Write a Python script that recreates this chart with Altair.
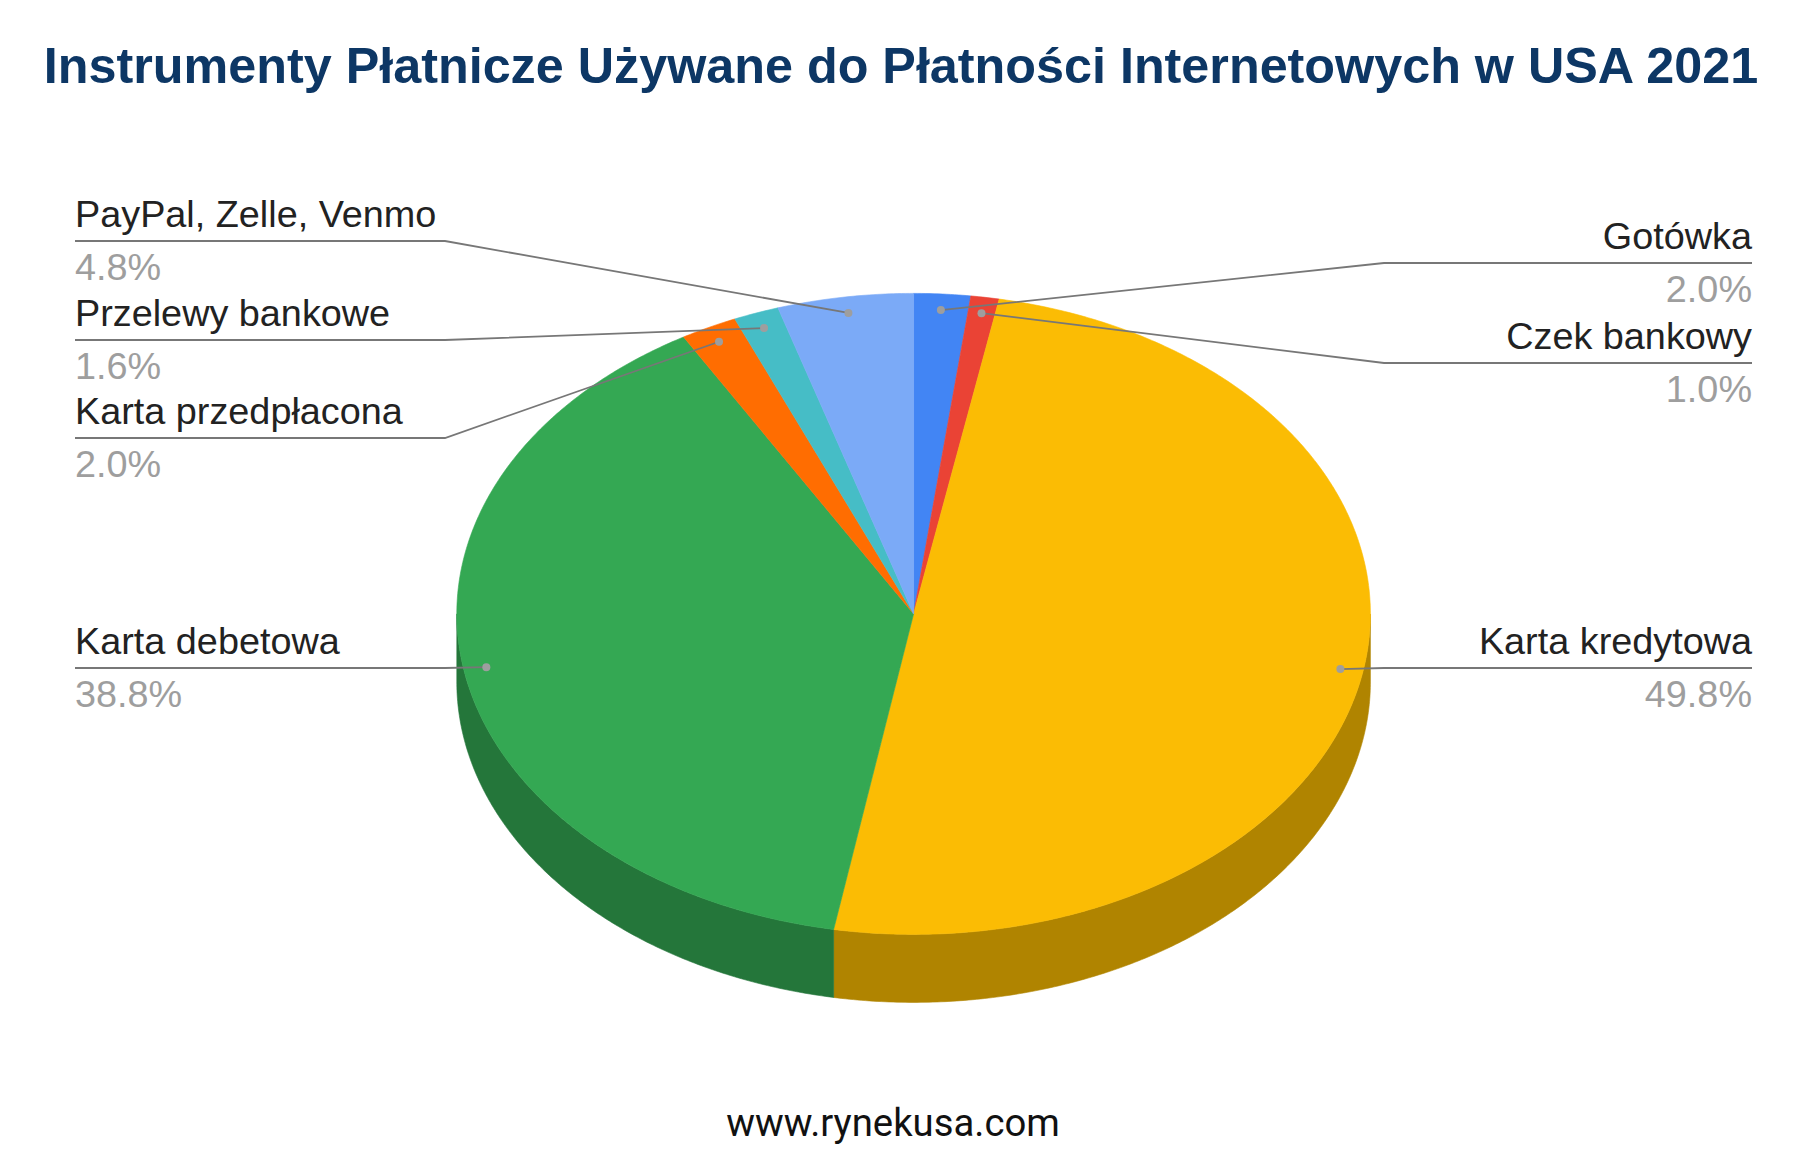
import math
import altair as alt
import pandas as pd

# ---------------- data ----------------
categories = ["Gotówka", "Czek bankowy", "Karta kredytowa", "Karta debetowa",
              "Karta przedpłacona", "Przelewy bankowe", "PayPal, Zelle, Venmo"]
values = [2.0, 1.0, 49.8, 38.8, 2.0, 1.6, 4.8]
pct_labels = ["2.0%", "1.0%", "49.8%", "38.8%", "2.0%", "1.6%", "4.8%"]
top_colors = ["#4285f4", "#ea4335", "#fbbc04", "#34a853", "#ff6d01", "#46bdc6", "#7baaf7"]
side_colors = ["#2e5dab", "#a42f25", "#b08400", "#24763a", "#b34c01", "#31848a", "#5677ad"]
title_text = "Instrumenty Płatnicze Używane do Płatności Internetowych w USA 2021"
footer_text = "www.rynekusa.com"

# ---------------- layout (page pixels) ----------------
W, H = 1811, 1171
OFF = 8
CX, CY, RX, RY, DEPTH = 913.6, 613.9, 456.8, 320.5, 68
ANCHOR_R = 0.95
label_side = ["right", "right", "right", "left", "left", "left", "left"]
label_line_y = [263, 363, 668, 668, 438, 340, 241]
LEFT_X, LEFT_ELBOW = 75, 445
RIGHT_X, RIGHT_ELBOW = 1752, 1384
NAME_DY, PCT_DY = -14, 39
LABEL_FONT = "Liberation Sans, Arial, sans-serif"
LABEL_SIZE = 37.8


def pt(theta, r=1.0, dy=0.0):
    return [CX + r * RX * math.sin(theta) - OFF, CY - r * RY * math.cos(theta) + dy - OFF]


def arc(a0, a1, dy=0.0):
    n = max(2, int(abs(a1 - a0) / (math.pi / 360)) + 1)
    return [pt(a0 + (a1 - a0) * k / (n - 1), 1.0, dy) for k in range(n)]


total = sum(values)
bounds = []
acc = 0.0
for v in values:
    a0 = acc / total * 2 * math.pi
    acc += v
    a1 = acc / total * 2 * math.pi
    bounds.append((a0, a1))

side_features, top_features = [], []
for i, (a0, a1) in enumerate(bounds):
    center = [CX - OFF, CY - OFF]
    ring = [center] + arc(a0, a1) + [center]
    top_features.append({"type": "Feature", "properties": {"fill": top_colors[i], "name": categories[i]},
                         "geometry": {"type": "Polygon", "coordinates": [ring]}})
    s0, s1 = max(a0, math.pi / 2), min(a1, 3 * math.pi / 2)
    if s1 > s0:
        upper = arc(s0, s1)
        lower = arc(s1, s0, DEPTH)
        ring = upper + lower + [upper[0]]
        side_features.append({"type": "Feature", "properties": {"fill": side_colors[i], "name": categories[i]},
                              "geometry": {"type": "Polygon", "coordinates": [ring]}})

line_features, dots, texts_left, texts_right = [], [], [], []
for i, (a0, a1) in enumerate(bounds):
    mid = (a0 + a1) / 2
    ax, ay = pt(mid, ANCHOR_R)
    dots.append({"lon": ax, "lat": ay, "name": categories[i]})
    ly = label_line_y[i] - OFF
    if label_side[i] == "left":
        coords = [[LEFT_X - OFF, ly], [LEFT_ELBOW - OFF, ly], [ax, ay]]
        tgt = texts_left
        tx = LEFT_X - OFF
    else:
        coords = [[RIGHT_X - OFF, ly], [RIGHT_ELBOW - OFF, ly], [ax, ay]]
        tgt = texts_right
        tx = RIGHT_X - OFF
    line_features.append({"type": "Feature", "properties": {"name": categories[i]},
                          "geometry": {"type": "LineString", "coordinates": coords}})
    tgt.append({"lon": tx, "lat": ly + NAME_DY, "text": categories[i], "kind": "name"})
    tgt.append({"lon": tx, "lat": ly + PCT_DY, "text": pct_labels[i], "kind": "pct"})

tl = pd.DataFrame(texts_left)
tr = pd.DataFrame(texts_right)
dots_df = pd.DataFrame(dots)
misc = pd.DataFrame([
    {"lon": 901 - OFF, "lat": 83 - OFF, "text": title_text},
])
foot = pd.DataFrame([{"lon": 893 - OFF, "lat": 1136 - OFF, "text": footer_text}])

sides = alt.Chart(alt.Data(values=side_features)).mark_geoshape(strokeWidth=0.6).encode(
    fill=alt.Fill("properties.fill:N", scale=None),
    stroke=alt.Stroke("properties.fill:N", scale=None),
)
tops = alt.Chart(alt.Data(values=top_features)).mark_geoshape(strokeWidth=0.6).encode(
    fill=alt.Fill("properties.fill:N", scale=None),
    stroke=alt.Stroke("properties.fill:N", scale=None),
    tooltip=[alt.Tooltip("properties.name:N", title="Kategoria")],
)
leaders = alt.Chart(alt.Data(values=line_features)).mark_geoshape(
    filled=False, stroke="#777777", strokeWidth=1.8
)
dot_layer = alt.Chart(dots_df).mark_circle(size=64, color="#9e9e9e", opacity=1).encode(
    longitude="lon:Q", latitude="lat:Q"
)


def text_layer(df, align):
    return alt.Chart(df).mark_text(
        align=align, baseline="alphabetic", font=LABEL_FONT, fontSize=LABEL_SIZE
    ).encode(
        longitude="lon:Q", latitude="lat:Q", text="text:N",
        color=alt.Color("kind:N", scale=alt.Scale(domain=["name", "pct"], range=["#222222", "#9e9e9e"]), legend=None),
    )


title_layer = alt.Chart(misc).mark_text(
    align="center", baseline="alphabetic", font="Liberation Sans, Arial, sans-serif",
    fontSize=50.3, fontWeight="bold", color="#0d3765"
).encode(longitude="lon:Q", latitude="lat:Q", text="text:N")

foot_layer = alt.Chart(foot).mark_text(
    align="center", baseline="alphabetic", font="Roboto, sans-serif", fontSize=38.3, color="#111111"
).encode(longitude="lon:Q", latitude="lat:Q", text="text:N")

chart = alt.layer(
    sides, tops, leaders, dot_layer, text_layer(tl, "left"), text_layer(tr, "right"), title_layer, foot_layer
).project(
    type="identity", scale=1, translate=[0, 0]
).properties(
    width=W - 2 * OFF, height=H - 2 * OFF,
    autosize=alt.AutoSizeParams(type="none"), padding=0, background="white"
).configure_view(stroke=None)

chart.save("out.html", embed_options={"renderer": "svg", "actions": False})
